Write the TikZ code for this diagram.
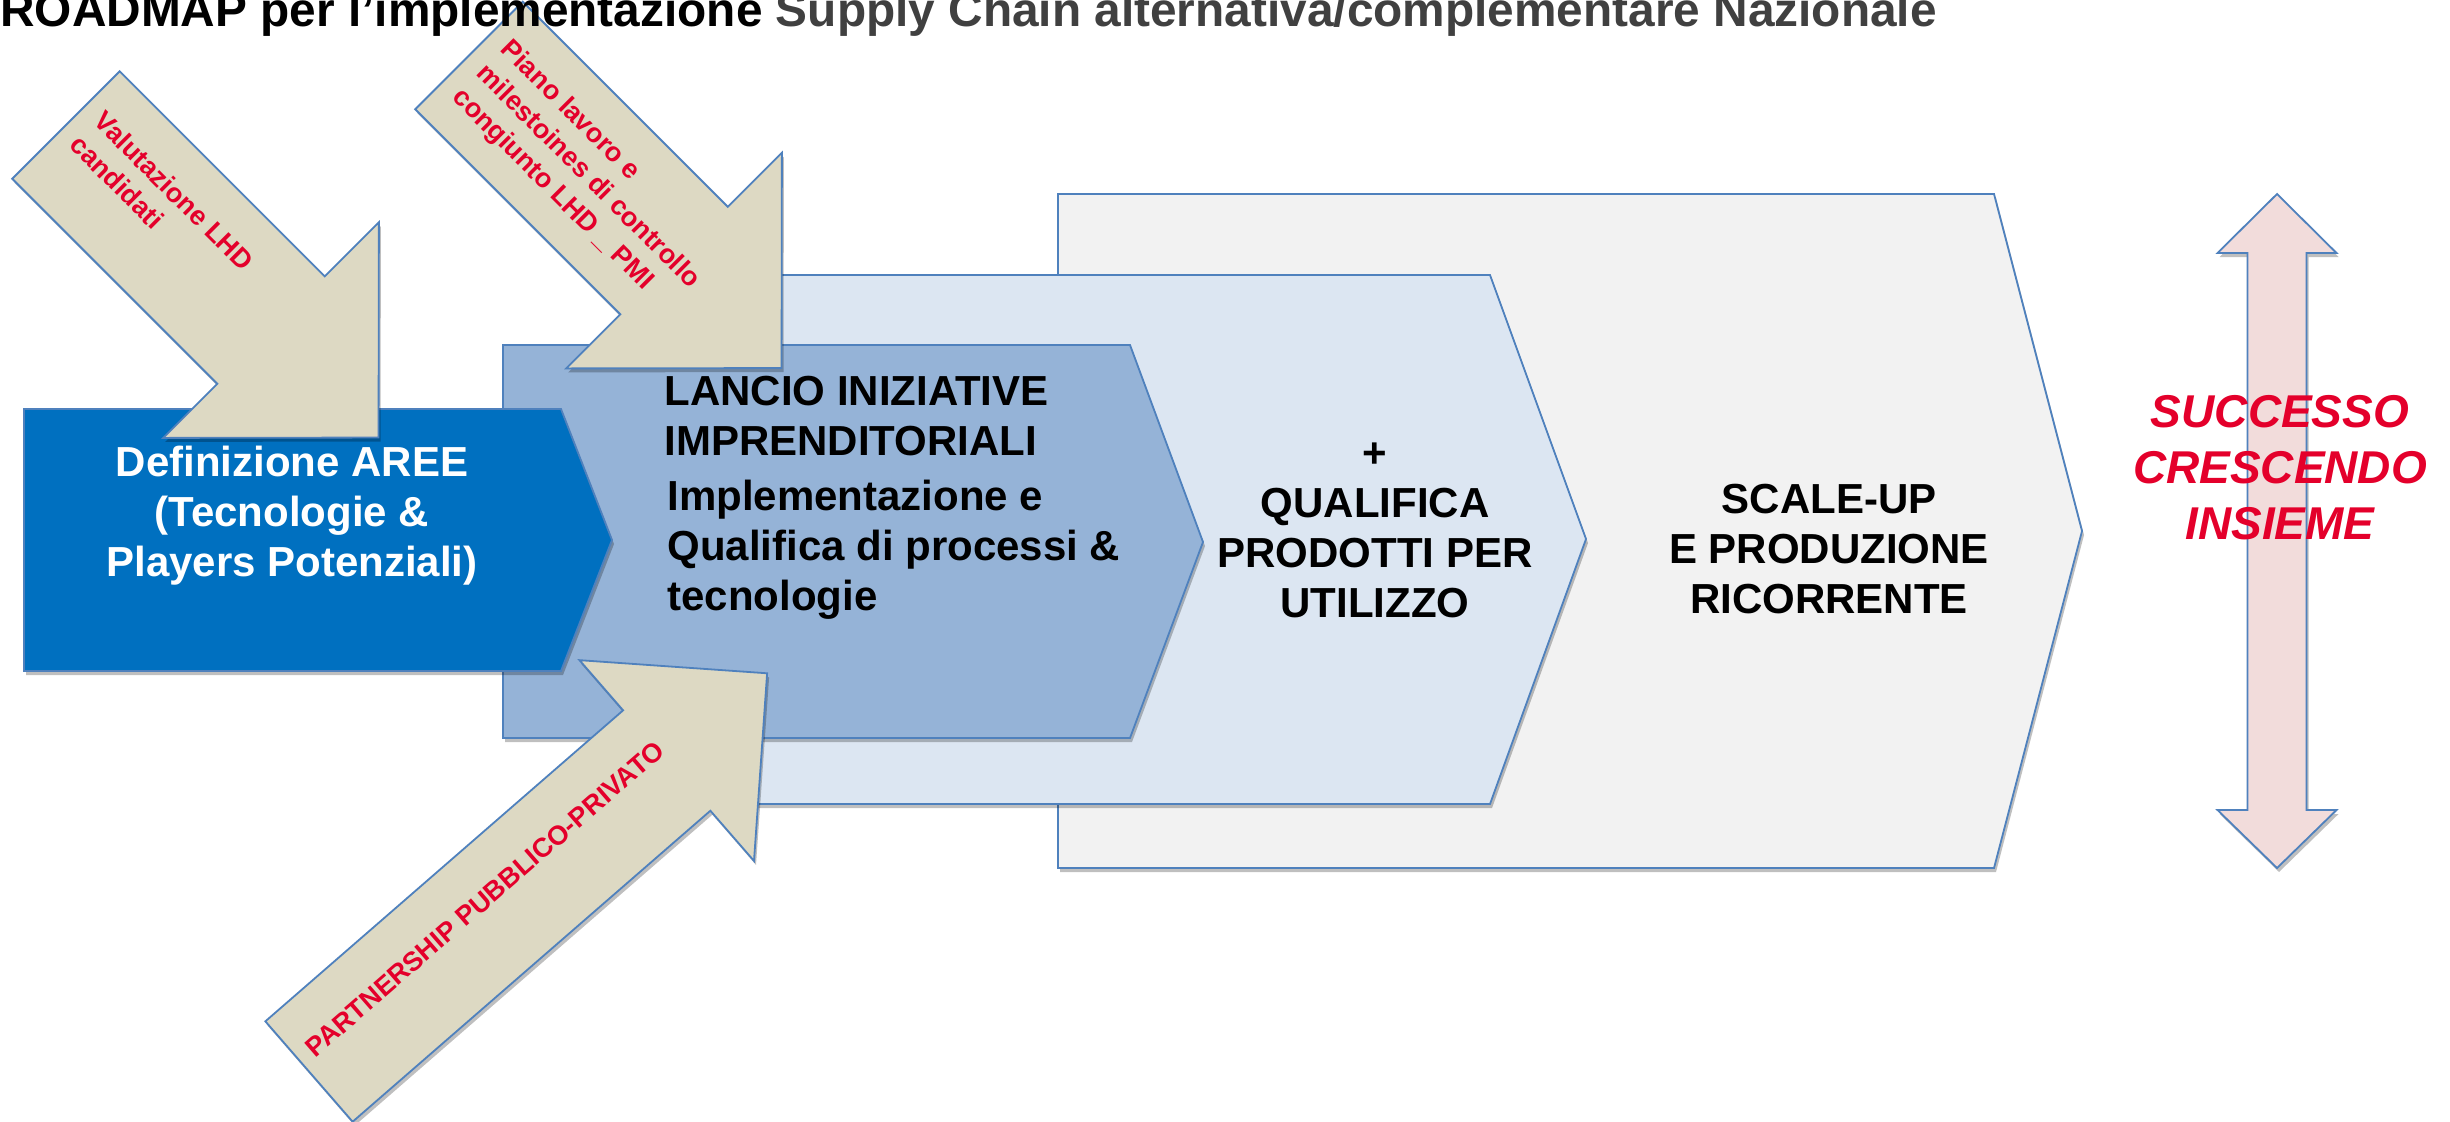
\documentclass[tikz,border=0pt]{standalone}
\usepackage{fontspec}
\setmainfont{Liberation Sans}
\usetikzlibrary{shadows}
\definecolor{tanfill}{HTML}{DDD9C3}
\definecolor{edgeblue}{HTML}{4F81BD}
\definecolor{boxblue}{HTML}{0070C0}
\definecolor{midblue}{HTML}{95B3D7}
\definecolor{paleblue}{HTML}{DCE6F2}
\definecolor{greybox}{HTML}{F2F2F2}
\definecolor{pinkfill}{HTML}{F2DCDB}
\definecolor{tanred}{RGB}{228,0,43}
\definecolor{titlegrey}{HTML}{404040}
% block arrow along +x: #1 shaft length, #2 shaft width, #3 head width, #4 head length
\newcommand{\tanarrow}[4]{%
  \draw[tanshape] (0,-#2/2) -- (#1,-#2/2) -- (#1,-#3/2) -- (#1+#4,0)
    -- (#1,#3/2) -- (#1,#2/2) -- (0,#2/2) -- cycle;}

\begin{document}
\begin{tikzpicture}[x=0.5pt, y=-0.5pt,
    softshadow/.style = {drop shadow={shadow xshift=1pt, shadow yshift=-2pt,
                         opacity=.25, fill=black}},
      tanshape/.style = {fill=tanfill, draw=edgeblue, line width=0.9pt, softshadow},
         stage/.style = {draw=edgeblue, line width=0.9pt, softshadow},% chevron boxes
       boxtext/.style = {font=\fontsize{21}{25}\selectfont\bfseries, inner sep=0pt},
      redlabel/.style = {text=tanred, font=\fontsize{13.5}{17}\selectfont\bfseries,
                         inner sep=0pt, align=left},
                    ]
\useasboundingbox[fill=white] (0,0) rectangle (2450,1121);
% stages, back to front
\draw[stage, fill=greybox] (1058,194) -- (1994,194) -- (2082,531) -- (1994,868) -- (1058,868) -- cycle;
\draw[stage, fill=paleblue] (700,275) -- (1490,275) -- (1586,539) -- (1490,804) -- (700,804) -- cycle;
\draw[stage, fill=midblue] (503,345) -- (1130,345) -- (1203,542) -- (1130,738) -- (503,738) -- cycle;
\draw[stage, fill=boxblue] (24,409) -- (561,409) -- (612,540) -- (561,671) -- (24,671) -- cycle;
% incoming arrows
\begin{scope}[shift={(66,125)}, rotate=-45]
  \tanarrow{290}{152}{305}{152}
  \node[redlabel, rotate=-45, anchor=west] (valutazione) at (17,-13) {Valutazione LHD\\candidati};
\end{scope}
\begin{scope}[shift={(469,55.5)}, rotate=-45]
  \tanarrow{290}{152}{305}{152}
  \node[redlabel, rotate=-45, anchor=west] (piano) at (18,2)
       {Piano lavoro e\\milestoines di controllo\\congiunto LHD \_ PMI};
\end{scope}
\begin{scope}[shift={(309,1071.5)}, rotate=41]
  \tanarrow{474}{133}{266}{133}
  \node[redlabel, rotate=41, anchor=west] (partnership) at (13,-15) {PARTNERSHIP PUBBLICO-PRIVATO};
\end{scope}
% double arrow
\draw[stage, fill=pinkfill] (2277,194) -- (2336.5,253) -- (2306.5,253) -- (2306.5,810)
  -- (2336.5,810) -- (2277,868) -- (2217.5,810) -- (2247.5,810) -- (2247.5,253)
  -- (2217.5,253) -- cycle;
% texts
\node[anchor=base west, inner sep=0pt, font=\fontsize{23.9}{28}\selectfont\bfseries] (title) at (0,26.5)
  {ROADMAP per l’implementazione \textcolor{titlegrey}{Supply Chain alternativa/complementare Nazionale}};
\node[boxtext, text=white, align=center] (defaree) at (292,516)
  {Definizione AREE\\(Tecnologie \&\\Players Potenziali)};
\node[boxtext, align=left, anchor=west] (lancio) at (664,416.5) {LANCIO INIZIATIVE\\IMPRENDITORIALI};
\node[boxtext, align=left, anchor=west] (implem) at (667,550)
  {Implementazione e\\Qualifica di processi \&\\tecnologie};
\node[boxtext, align=center] (qualifica) at (1375,530) {+\\QUALIFICA\\PRODOTTI PER\\UTILIZZO};
\node[boxtext, align=center] (scaleup) at (1829,549) {SCALE-UP\\E PRODUZIONE\\RICORRENTE};
\node[text=tanred, inner sep=0pt, align=center,
      font=\fontsize{23}{28}\selectfont\bfseries\itshape] (successo) at (2280,468)
  {SUCCESSO\\CRESCENDO\\INSIEME};
\end{tikzpicture}
\end{document}
